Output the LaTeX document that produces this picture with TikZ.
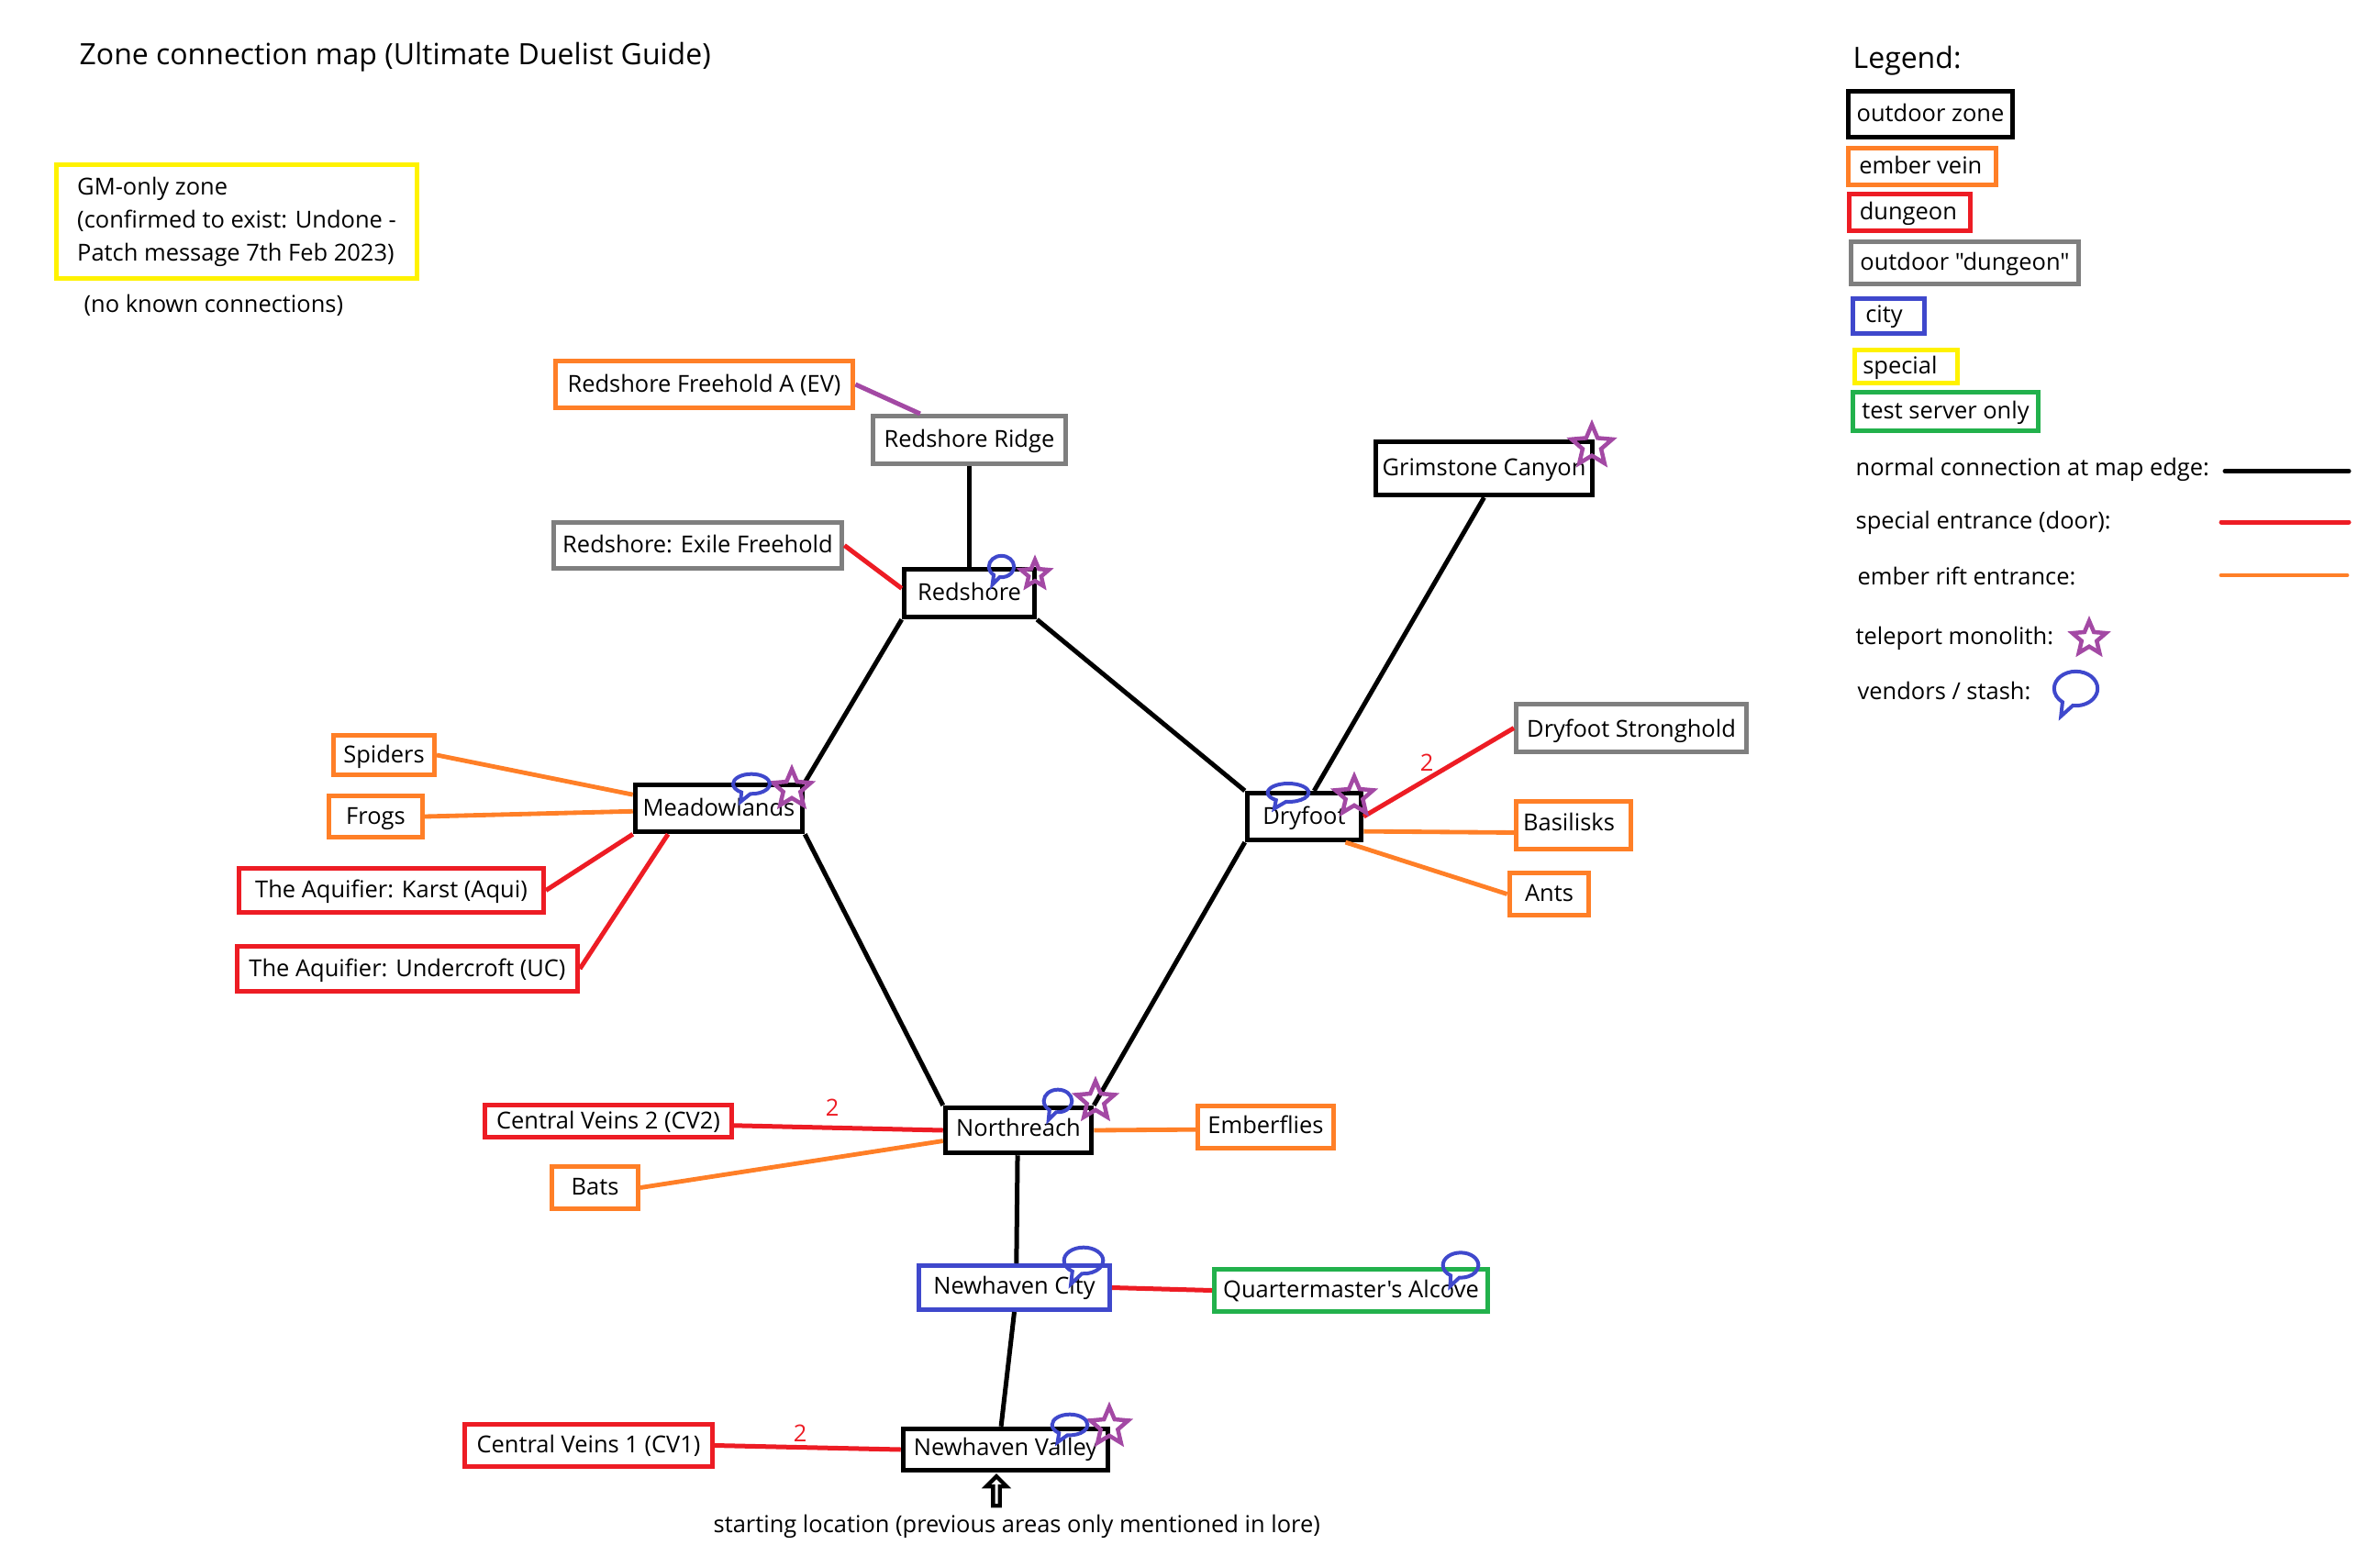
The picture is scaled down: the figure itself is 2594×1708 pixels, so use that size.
\documentclass[tikz,border=0pt]{standalone}
\usepackage{fontspec}
\usetikzlibrary{shapes.geometric,shapes.callouts,shapes.arrows}
\newfontfamily\mapfont{Open Sans}
\definecolor{mapblack}{HTML}{000000}
\definecolor{maporange}{HTML}{FF7F27}
\definecolor{mapred}{HTML}{ED1C24}
\definecolor{mapgray}{HTML}{7F7F7F}
\definecolor{mapblue}{HTML}{3F48CC}
\definecolor{mapyellow}{HTML}{FFF200}
\definecolor{mapgreen}{HTML}{22B14C}
\definecolor{mappurple}{HTML}{A349A4}
\begin{document}
\begin{tikzpicture}[x=0.3pt, y=-0.3pt,
	every node/.style = {inner sep=0pt, font=\mapfont\fontsize{7.64pt}{10.8pt}\selectfont},
	box/.style = {draw, rectangle, line width=1.5pt, text height=5.9pt, text depth=1pt},
	zone/.style = {box, draw=black, line width=1.65pt},
	vein/.style = {box, draw=maporange},
	dungeon/.style = {box, draw=mapred},
	outdoor/.style = {box, draw=mapgray},
	city/.style = {box, draw=mapblue},
	special/.style = {box, draw=mapyellow},
	testonly/.style = {box, draw=mapgreen},
	plain/.style = {anchor=west, text height=5.9pt, text depth=1pt},
	heading/.style = {plain, font=\mapfont\fontsize{9.6pt}{11pt}\selectfont},
	road/.style = {draw=black, line width=1.5pt},
	door/.style = {draw=mapred, line width=1.5pt},
	rift/.style = {draw=maporange, line width=1.45pt},
	portal/.style = {draw=mappurple, line width=1.5pt},
	monolith/.style = {draw=mappurple, star, star points=5, star point ratio=2.2, line width=1.35pt},
	vendor/.style = {draw=mapblue, ellipse callout, callout pointer arc=30, line width=1.2pt}]

	\useasboundingbox (0,0) rectangle (2594,1708);

	\node[heading] (title) at (86,62) {Zone connection map (Ultimate Duelist Guide)};
	\node[special, align=left, text height=, text depth=, minimum width=118pt, minimum height=37.2pt] (gm) at (258,241.5) {GM-only zone\\(confirmed to exist: Undone -\\Patch message 7th Feb 2023)};
	\node[plain] (noconn) at (91,332) {(no known connections)};

	\node[vein, minimum width=97.4pt, minimum height=15.5pt] (freehold) at (767.5,419) {Redshore Freehold A (EV)};
	\node[outdoor, minimum width=63pt, minimum height=15.6pt] (ridge) at (1056.5,479.5) {Redshore Ridge};
	\node[outdoor, minimum width=94.4pt, minimum height=15pt] (exile) at (760.5,594.5) {Redshore: Exile Freehold};
	\node[zone, minimum width=42.6pt, minimum height=15.6pt] (redshore) at (1056.5,646.5) {Redshore};
	\node[zone, minimum width=70.8pt, minimum height=17.4pt] (grim) at (1617.5,510.5) {Grimstone Canyon};
	\node[outdoor, text depth=0pt, minimum width=75.3pt, minimum height=15.6pt] (strong) at (1778,793.5) {Dryfoot Stronghold};
	\node[zone, minimum width=54.6pt, minimum height=15.3pt] (meadow) at (783.5,881) {Meadowlands};
	\node[zone, minimum width=37.2pt, minimum height=15.2pt] (dry) at (1421.5,890) {Dryfoot};
	\node[vein, text depth=2.2pt, minimum width=37.5pt, minimum height=15.6pt] (basilisk) at (1715,899.5) {Basilisks\kern3pt};
	\node[vein, minimum width=26pt, minimum height=14pt] (ants) at (1688.5,974.5) {Ants};
	\node[vein, minimum width=33pt, minimum height=13pt] (spiders) at (418.5,823) {Spiders};
	\node[vein, minimum width=30.6pt, minimum height=13.5pt] (frogs) at (409.5,890) {Frogs};
	\node[dungeon, minimum width=99.6pt, minimum height=14.4pt] (karst) at (426.5,970.5) {The Aquifier: Karst (Aqui)};
	\node[dungeon, minimum width=111.3pt, minimum height=14.7pt] (under) at (444,1056) {The Aquifier: Undercroft (UC)};
	\node[dungeon, minimum width=80.7pt, minimum height=10.5pt] (cv2) at (663,1222) {Central Veins 2 (CV2)};
	\node[vein, minimum width=28.2pt, minimum height=14pt] (bats) at (648.5,1294.5) {Bats};
	\node[zone, text depth=2.2pt, minimum width=47.7pt, minimum height=14.7pt] (north) at (1110,1232) {Northreach};
	\node[vein, text depth=1.8pt, minimum width=44.4pt, minimum height=14pt] (embers) at (1379.5,1228.5) {Emberflies};
	\node[city, text depth=1.6pt, minimum width=62.4pt, minimum height=14.4pt] (haven) at (1105.5,1403.5) {Newhaven City};
	\node[testonly, minimum width=89.4pt, minimum height=14pt] (alcove) at (1472.5,1406.5) {Quartermaster's Alcove};
	\node[dungeon, minimum width=81pt, minimum height=14pt] (cv1) at (641.5,1575.5) {Central Veins 1 (CV1)};
	\node[zone, text depth=2.2pt, minimum width=66.9pt, minimum height=13.5pt] (valley) at (1096,1580) {Newhaven Valley};

	\node[draw=black, single arrow, shape border rotate=90, line width=1.3pt, minimum height=9.6pt, minimum width=6.6pt, single arrow head extend=1.3pt] (start) at (1086,1627) {};
	\node[plain] (startlabel) at (777,1662) {starting location (previous areas only mentioned in lore)};

	\draw[portal] (freehold.east) -- (ridge.152);
	\draw[road] (ridge.south) -- (redshore.north);
	\draw[door] (exile.east) -- (redshore.176);
	\draw[road] (redshore.south west) -- (meadow.north east);
	\draw[road] (redshore.south east) -- (dry.north west);
	\draw[road] (grim.south) -- (dry.69);
	\draw[road] (meadow.south east) -- (north.north west);
	\draw[road] (dry.south west) -- (north.north east);
	\draw[door] (dry.east) -- node[pos=0.42, above, inner sep=2pt, text=mapred] (two1) {2} (strong.west);
	\draw[rift] (dry.-14) -- (basilisk.187);
	\draw[rift] (dry.-32) -- (ants.west);
	\draw[rift] (spiders.east) -- (meadow.171);
	\draw[rift] (frogs.east) -- (meadow.182);
	\draw[door] (karst.east) -- (meadow.south west);
	\draw[door] (under.east) -- (meadow.207);
	\draw[door] (cv2.-2) -- node[pos=0.47, above, inner sep=3pt, text=mapred] (two2) {2} (north.west);
	\draw[rift] (bats.east) -- (north.188);
	\draw[rift] (north.east) -- (embers.182);
	\draw[road] (north.-92) -- (haven.85);
	\draw[door] (haven.east) -- (alcove.west);
	\draw[road] (haven.south) -- (valley.101);
	\draw[door] (cv1.east) -- node[pos=0.46, above, inner sep=1pt, text=mapred] (two3) {2} (valley.west);

	\node[monolith, minimum size=9.5pt] (s1) at (1128,626) {};
	\node[monolith, minimum size=13pt] (s2) at (863,860) {};
	\node[monolith, minimum size=14pt] (s3) at (1735,486) {};
	\node[monolith, minimum size=13pt] (s4) at (1476,868) {};
	\node[monolith, minimum size=13pt] (s5) at (1194,1200) {};
	\node[monolith, minimum size=13pt] (s6) at (1209,1555) {};

	\node[vendor, minimum width=8.2pt, minimum height=7pt, callout relative pointer={(-4.5,9)}] (v1) at (1091.5,617.5) {};
	\node[vendor, minimum width=12pt, minimum height=6.5pt, callout relative pointer={(-5.5,9)}] (v2) at (819,854.5) {};
	\node[vendor, minimum width=13.4pt, minimum height=6pt, callout relative pointer={(-7,8)}] (v3) at (1404,864) {};
	\node[vendor, minimum width=9.2pt, minimum height=7.4pt, callout relative pointer={(-4.5,9)}] (v4) at (1153,1200) {};
	\node[vendor, minimum width=12.8pt, minimum height=8.6pt, callout relative pointer={(-6.5,12)}] (v5) at (1181,1374) {};
	\node[vendor, minimum width=11.6pt, minimum height=8.2pt, callout relative pointer={(-5,10)}] (v6) at (1592,1379) {};
	\node[vendor, minimum width=11.6pt, minimum height=6.8pt, callout relative pointer={(-6,8.5)}] (v7) at (1166,1553) {};

	\node[heading] (legend) at (2019,66) {Legend:};
	\node[zone, minimum width=53.7pt, minimum height=15pt] (lzone) at (2104,124.5) {outdoor zone};
	\node[vein, minimum width=48.3pt, minimum height=12pt] (lvein) at (2095,181.5) {ember vein\kern1pt};
	\node[dungeon, minimum width=39.6pt, minimum height=12pt] (ldungeon) at (2081.5,231.5) {dungeon\kern1pt};
	\node[outdoor, minimum width=74.4pt, minimum height=13.8pt] (loutdoor) at (2141.5,286.5) {outdoor "dungeon"};
	\node[city, text depth=1.6pt, minimum width=23.4pt, minimum height=11.4pt] (lcity) at (2058.5,344.5) {city\kern3pt};
	\node[special, minimum width=33.6pt, minimum height=10.8pt] (lspecial) at (2077.5,399.5) {special\kern4pt};
	\node[testonly, minimum width=60.6pt, minimum height=12.6pt] (ltest) at (2120.5,448.5) {test server only};

	\node[plain] (lnormal) at (2022,510) {normal connection at map edge:};
	\node[plain] (ldoor) at (2022,568) {special entrance (door):};
	\node[plain] (lrift) at (2024,629) {ember rift entrance:};
	\node[plain] (lmono) at (2022,694) {teleport monolith:};
	\node[plain] (lstash) at (2024,754) {vendors / stash:};

	\coordinate (n1) at (2425,513.5);
	\coordinate (n2) at (2560,513.5);
	\coordinate (d1) at (2421,569);
	\coordinate (d2) at (2560,569);
	\coordinate (r1) at (2421,627);
	\coordinate (r2) at (2558,627);
	\draw[road, line cap=round] (n1) -- (n2);
	\draw[door, line cap=round] (d1) -- (d2);
	\draw[rift, line cap=round] (r1) -- (r2);

	\node[monolith, minimum size=11.5pt] (s7) at (2277,696) {};
	\node[vendor, minimum width=14.2pt, minimum height=11.2pt, callout relative pointer={(-7,13)}] (v8) at (2262.5,750.5) {};
\end{tikzpicture}
\end{document}
